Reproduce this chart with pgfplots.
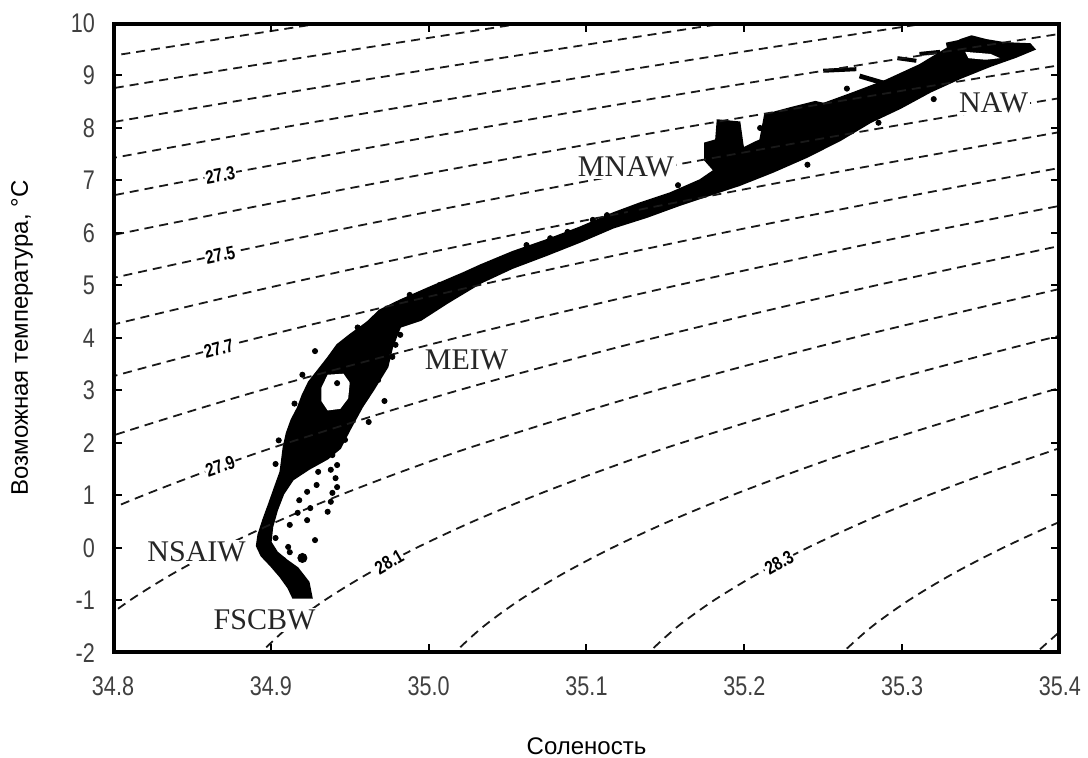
\documentclass[border=0pt]{standalone}
\usepackage{pgfplots}
\pgfplotsset{compat=1.18}
\usepackage{fontspec}
\setmainfont{Liberation Serif}
\newfontfamily\sansf{Liberation Sans}
\newfontfamily\narrowf[FakeStretch=0.8]{Liberation Sans}
\pgfplotsset{iso/.style={black!90, line width=0.9pt, dash pattern=on 4.5pt off 3pt, smooth}}
\tikzset{
  clab/.style={fill=white, inner sep=0.6pt, font=\narrowf\bfseries\fontsize{9.5}{10}\selectfont},
  wm/.style={fill=white, inner sep=1pt, font=\fontsize{15}{17}\selectfont, text=black!85},
}
\begin{document}
\begin{tikzpicture}
\useasboundingbox (-56.5pt,-52.5pt) rectangle (487.5pt,326.5pt);
\begin{axis}[
  scale only axis, width=473.5pt, height=315pt,
  xmin=34.8, xmax=35.4, ymin=-2, ymax=10,
  xtick={34.8,34.9,35.0,35.1,35.2,35.3,35.4},
  xticklabels={34.8,34.9,35.0,35.1,35.2,35.3,35.4},
  ytick={-2,-1,0,1,2,3,4,5,6,7,8,9,10},
  yticklabels={-2,-1,0,1,2,3,4,5,6,7,8,9,10},
  /pgf/number format/assume math mode=true,
  tick align=inside, major tick length=4.5pt,
  axis line style={line width=1pt},
  every tick/.style={black, line width=1pt},
  tick label style={font=\narrowf\fontsize{13.5}{15}\selectfont, text=black!75},
  xticklabel style={yshift=-8.5pt},
  yticklabel style={xshift=-5.5pt},
  xlabel={Соленость}, ylabel={Возможная температура, °C},
  every axis x label/.style={at={(axis description cs:0.5,-0.1476)},anchor=center,
     font=\sansf\fontsize{12}{14}\selectfont},
  every axis y label/.style={at={(axis description cs:-0.0961,0.5)},rotate=90,anchor=center,
     font=\sansf\fontsize{12}{14}\selectfont},
  axis on top,
]
% ---- dense T-S cloud (outline of the observed points) ----
\addplot[fill=black, draw=black, line width=0.8pt] coordinates {
(34.926,-0.95)(34.924,-0.65)(34.917,-0.38)(34.910,-0.23)(34.904,-0.08)(34.900,0.11)
(34.901,0.40)(34.904,0.72)(34.908,1.03)(34.914,1.30)(34.924,1.50)(34.936,1.70)
(34.944,1.90)(34.950,2.25)(34.958,2.69)(34.965,3.01)(34.974,3.45)(34.977,3.83)
(34.982,4.21)(34.995,4.34)(35.012,4.67)(35.033,5.05)(35.053,5.33)(35.075,5.58)
(35.096,5.83)(35.117,6.10)(35.138,6.30)(35.159,6.53)(35.176,6.70)(35.197,6.91)
(35.218,7.16)(35.240,7.45)(35.261,7.77)(35.280,8.11)(35.299,8.38)(35.318,8.69)
(35.337,8.95)(35.356,9.18)(35.372,9.35)(35.384,9.50)(35.381,9.60)(35.365,9.62)
(35.353,9.68)(35.344,9.75)(35.337,9.68)(35.327,9.49)(35.311,9.20)(35.290,8.91)
(35.269,8.67)(35.248,8.44)(35.229,8.15)(35.218,7.87)(35.207,7.73)(35.197,7.58)
(35.186,7.30)(35.172,7.01)(35.153,6.76)(35.134,6.57)(35.117,6.38)(35.096,6.11)
(35.075,5.87)(35.053,5.64)(35.033,5.39)(35.022,5.24)(35.001,4.97)(34.982,4.72)
(34.969,4.53)(34.961,4.30)(34.950,4.06)(34.942,3.87)(34.936,3.62)(34.930,3.39)
(34.924,3.16)(34.920,2.91)(34.917,2.67)(34.913,2.44)(34.910,2.19)(34.908,1.92)
(34.907,1.68)(34.906,1.45)(34.903,1.20)(34.899,0.86)(34.895,0.53)(34.892,0.25)
(34.891,0.04)(34.894,-0.15)(34.900,-0.34)(34.906,-0.55)(34.911,-0.76)(34.914,-0.95)
} -- cycle;
% MNAW blobs
\addplot[fill=black, draw=black, line width=0.8pt] coordinates {
(35.183,8.15)(35.197,8.11)(35.199,7.68)(35.202,7.30)(35.185,7.05)(35.175,7.39)(35.175,7.71)(35.182,7.77)
} -- cycle;
\addplot[fill=black, draw=black, line width=0.8pt] coordinates {
(35.213,8.25)(35.229,8.38)(35.245,8.50)(35.254,8.44)(35.248,8.19)(35.232,8.06)(35.223,7.87)(35.216,7.68)(35.210,7.77)
} -- cycle;
% gaps inside the cloud
\addplot[fill=white, draw=none] coordinates {
(34.936,3.30)(34.946,3.32)(34.950,3.15)(34.949,2.85)(34.944,2.65)(34.936,2.62)(34.932,2.80)(34.932,3.05)
} -- cycle;
\addplot[fill=white, draw=none] coordinates {
(35.340,9.45)(35.356,9.41)(35.362,9.33)(35.353,9.30)(35.342,9.33)
} -- cycle;
% fragments above the NAW branch
\addplot[black, line width=2pt] coordinates {(35.250,9.09)(35.271,9.12)};
\addplot[black, line width=2.4pt] coordinates {(35.273,8.99)(35.290,8.84)};
\addplot[black, line width=2pt] coordinates {(35.297,9.33)(35.309,9.28)};
\addplot[black, line width=2pt] coordinates {(35.311,9.41)(35.324,9.45)};
\addplot[black, line width=2.4pt] coordinates {(35.328,9.58)(35.344,9.68)};
% scattered points
\addplot[only marks, mark=*, mark size=1.3pt, black] coordinates {
(34.942,1.58)(34.930,1.45)(34.941,1.33)(34.929,1.20)(34.923,1.07)(34.942,1.16)
(34.939,1.05)(34.918,0.91)(34.938,0.88)(34.925,0.76)(34.936,0.69)(34.917,0.67)
(34.923,0.53)(34.912,0.44)(34.928,0.15)(34.903,0.19)(34.911,0.02)(34.912,-0.08)
(34.908,-0.23)(34.939,1.77)(34.938,1.49)(34.942,1.96)(34.947,2.06)
(35.062,5.77)(35.077,5.90)(35.088,6.02)(35.104,6.25)(35.113,6.34)(35.128,6.40)
(35.158,6.91)(35.048,5.45)(35.007,5.01)(35.017,5.10)(34.988,4.82)
(34.972,4.06)(34.979,3.87)(34.977,3.64)(34.942,3.14)(34.982,4.06)
(34.905,2.05)(34.903,1.60)(34.915,2.75)(34.920,3.30)(34.928,3.75)(34.955,4.20)
(34.968,3.20)(34.972,2.80)(34.962,2.40)(35.030,5.25)(35.210,8.00)(35.265,8.75)
(35.300,8.95)(35.330,9.30)(35.285,8.10)(35.320,8.55)(35.240,7.30)
};
\addplot[only marks, mark=*, mark size=2.3pt, black] coordinates {(34.920,-0.19)};
% ---- isopycnals (sigma-theta, 26.9 ... 28.5) ----
\addplot[iso] coordinates {(34.524,8)(34.721,9)(34.933,10)(35.04,10.5)};
\addplot[iso] coordinates {(34.6512,8)(34.8488,9)(35.0609,10)(35.17,10.5)};
\addplot[iso] coordinates {(34.5952,7)(34.7784,8)(34.9763,9)(35.1888,10)(35.30,10.5)};
\addplot[iso] coordinates {(34.722,7)(34.9056,8)(35.1039,9)(35.3166,10)(35.43,10.5)};
\addplot[iso] coordinates {(34.6801,6)(34.8489,7)(35.0328,8)(35.2315,9)(35.4445,10)};
\addplot[iso] coordinates {(34.6527,5)(34.8065,6)(34.9758,7)(35.1600,8)(35.3590,9)(35.5724,10)};
\addplot[iso] coordinates {(34.6402,4)(34.7788,5)(34.9330,6)(35.1026,7)(35.2873,8)(35.4866,9)};
\addplot[iso] coordinates {(34.6428,3)(34.7658,4)(34.9048,5)(35.0595,6)(35.2295,7)(35.4145,8)};
\addplot[iso] coordinates {(34.6609,2)(34.7680,3)(34.8915,4)(35.0309,5)(35.1860,6)(35.3564,7)(35.5417,8)};
\addplot[iso] coordinates {(34.6946,1)(34.7856,2)(34.8933,3)(35.0172,4)(35.1570,5)(35.3125,6)(35.4832,7)};
\addplot[iso] coordinates {(34.7445,0)(34.7796,0.5)(34.8190,1)(34.8626,1.5)(34.9104,2)(35.0185,3)(35.1428,4)(35.2831,5)(35.4389,6)};
\addplot[iso] coordinates {(34.7540,-2.5)(34.7706,-2)(34.7884,-1.5)(34.8106,-1)(34.8373,-0.5)(34.8683,0)(34.9037,0.5)(34.9433,1)(34.9871,1.5)(35.0352,2)(35.1437,3)(35.2685,4)(35.4092,5)};
\addplot[iso] coordinates {(34.8770,-2.5)(34.8934,-2)(34.9114,-1.5)(34.9339,-1)(34.9609,-0.5)(34.9921,0)(35.0277,0.5)(35.0676,1)(35.1117,1.5)(35.1600,2)(35.2689,3)(35.3941,4)(35.5352,5)};
\addplot[iso] coordinates {(35.0000,-2.5)(35.0162,-2)(35.0345,-1.5)(35.0573,-1)(35.0845,-0.5)(35.1160,0)(35.1518,0.5)(35.1919,1)(35.2363,1.5)(35.2848,2)(35.3942,3)(35.5198,4)};
\addplot[iso] coordinates {(35.1220,-2.5)(35.1391,-2)(35.1576,-1.5)(35.1806,-1)(35.2080,-0.5)(35.2398,0)(35.2759,0.5)(35.3162,1)(35.3608,1.5)(35.4096,2)};
\addplot[iso] coordinates {(35.2440,-2.5)(35.2619,-2)(35.2807,-1.5)(35.3040,-1)(35.3316,-0.5)(35.3637,0)(35.4000,0.5)(35.4406,1)};
\addplot[iso] coordinates {(35.3660,-2.5)(35.3847,-2)(35.4038,-1.5)(35.4273,-1)};
% isopycnal labels
\node[clab, rotate=10] at (axis cs:34.868,7.10) {27.3};
\node[clab, rotate=12] at (axis cs:34.868,5.58) {27.5};
\node[clab, rotate=15] at (axis cs:34.867,3.80) {27.7};
\node[clab, rotate=19] at (axis cs:34.868,1.56) {27.9};
\node[clab, rotate=30] at (axis cs:34.975,-0.27) {28.1};
\node[clab, rotate=30] at (axis cs:35.222,-0.28) {28.3};
% water masses
\node[wm] at (axis cs:35.358,8.48) {NAW};
\node[wm] at (axis cs:35.125,7.26) {MNAW};
\node[wm] at (axis cs:35.024,3.58) {MEIW};
\node[wm] at (axis cs:34.853,-0.08) {NSAIW};
\node[wm] at (axis cs:34.896,-1.37) {FSCBW};
% heavy frame
\draw[line width=2.6pt] (rel axis cs:0,0) rectangle (rel axis cs:1,1);
\end{axis}
\end{tikzpicture}
\end{document}
